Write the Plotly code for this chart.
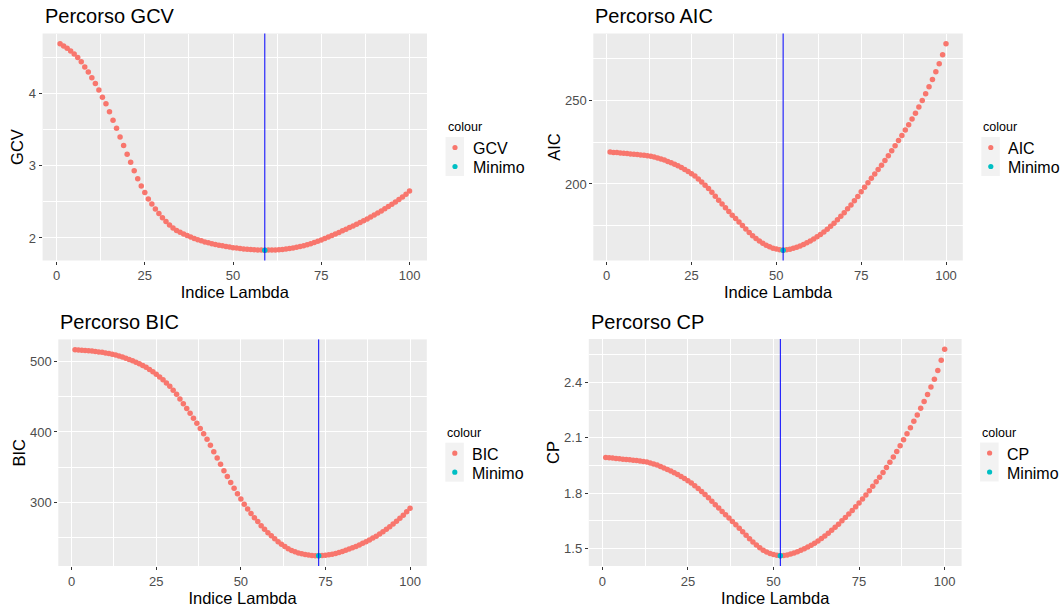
import plotly.graph_objects as go

# Lambda index shared by every criterion
indice = list(range(1, 101))

gcv = [4.69, 4.66, 4.63, 4.59, 4.55, 4.50, 4.44, 4.37, 4.30, 4.22,
       4.14, 4.05, 3.95, 3.86, 3.75, 3.63, 3.52, 3.40, 3.28, 3.16,
       3.05, 2.93, 2.82, 2.72, 2.63, 2.54, 2.47, 2.40, 2.34, 2.28,
       2.23, 2.18, 2.14, 2.105, 2.08, 2.055, 2.033, 2.012, 1.993, 1.976,
       1.96, 1.946, 1.933, 1.921, 1.91, 1.90, 1.891, 1.882, 1.874, 1.866,
       1.86, 1.854, 1.849, 1.845, 1.841, 1.838, 1.835, 1.833, 1.831, 1.832,
       1.833, 1.835, 1.838, 1.842, 1.847, 1.853, 1.861, 1.871, 1.882, 1.893,
       1.905, 1.92, 1.937, 1.955, 1.973, 1.992, 2.012, 2.033, 2.055, 2.077,
       2.099, 2.121, 2.144, 2.167, 2.19, 2.214, 2.239, 2.264, 2.29, 2.317,
       2.345, 2.374, 2.404, 2.435, 2.467, 2.50, 2.534, 2.569, 2.605, 2.652]

aic = [219.1, 218.9, 218.8, 218.6, 218.4, 218.2, 218.0, 217.8, 217.6, 217.4,
       217.2, 216.9, 216.6, 216.1, 215.6, 215.0, 214.3, 213.5, 212.7, 211.8,
       210.9, 209.8, 208.7, 207.4, 206.1, 204.7, 203.0, 201.2, 199.2, 197.2,
       195.0, 192.6, 190.3, 188.0, 185.8, 183.5, 181.3, 179.3, 177.2, 175.1,
       173.0, 170.9, 169.0, 167.3, 165.8, 164.5, 163.3, 162.3, 161.5, 161.0,
       160.6, 160.3, 160.5, 160.9, 161.4, 162.0, 162.8, 163.7, 164.7, 165.8,
       167.0, 168.3, 169.7, 171.2, 172.8, 174.6, 176.5, 178.5, 180.6, 182.8,
       185.1, 187.4, 189.9, 192.5, 195.3, 198.0, 200.7, 203.4, 206.0, 208.6,
       211.2, 214.0, 216.9, 219.9, 222.9, 226.0, 229.1, 232.3, 235.5, 238.9,
       242.4, 246.1, 250.0, 254.0, 258.2, 262.6, 267.2, 272.1, 277.4, 284.0]

bic = [517.0, 516.6, 516.3, 515.9, 515.5, 515.0, 514.5, 513.9, 513.2, 512.4,
       511.5, 510.5, 509.3, 508.0, 506.6, 505.0, 503.2, 501.2, 499.0, 496.9,
       494.6, 492.0, 489.0, 485.6, 482.0, 478.2, 474.2, 469.8, 465.0, 459.5,
       453.5, 447.0, 440.3, 433.5, 426.5, 419.5, 412.5, 405.0, 397.5, 389.6,
       381.0, 372.0, 363.0, 354.0, 345.0, 336.5, 328.2, 320.0, 312.0, 304.5,
       297.3, 290.5, 284.0, 278.0, 272.5, 266.5, 261.5, 256.8, 252.3, 248.0,
       244.0, 240.3, 237.0, 234.0, 231.5, 229.5, 227.9, 226.6, 225.6, 224.9,
       224.4, 224.1, 224.0, 224.2, 224.7, 225.4, 226.2, 227.3, 228.6, 230.0,
       231.7, 233.5, 235.2, 237.0, 239.3, 241.6, 243.9, 246.5, 249.1, 251.8,
       255.0, 258.2, 261.6, 265.2, 269.0, 273.0, 277.2, 281.7, 286.5, 291.5]

cp = [1.993, 1.991, 1.990, 1.988, 1.986, 1.984, 1.982, 1.980, 1.978, 1.976,
      1.974, 1.971, 1.968, 1.963, 1.958, 1.952, 1.944, 1.936, 1.928, 1.919,
      1.910, 1.900, 1.890, 1.879, 1.867, 1.854, 1.840, 1.825, 1.809, 1.792,
      1.774, 1.756, 1.737, 1.719, 1.700, 1.682, 1.664, 1.646, 1.628, 1.609,
      1.590, 1.571, 1.552, 1.534, 1.518, 1.503, 1.490, 1.480, 1.472, 1.466,
      1.462, 1.460, 1.461, 1.464, 1.469, 1.475, 1.482, 1.490, 1.498, 1.507,
      1.517, 1.528, 1.540, 1.553, 1.567, 1.582, 1.598, 1.614, 1.631, 1.649,
      1.667, 1.686, 1.705, 1.725, 1.746, 1.768, 1.790, 1.813, 1.837, 1.861,
      1.886, 1.912, 1.939, 1.967, 1.996, 2.026, 2.057, 2.089, 2.122, 2.155,
      2.189, 2.224, 2.260, 2.297, 2.335, 2.375, 2.417, 2.465, 2.520, 2.580]

criteri = ["GCV", "AIC", "BIC", "CP"]
x_ticks = [0, 25, 50, 75, 100]
x_minor = [12.5, 37.5, 62.5, 87.5]
gcv_ticks, gcv_minor = [2, 3, 4], [2.5, 3.5, 4.5]
aic_ticks, aic_minor = [200, 250], [175, 225, 275]
bic_ticks, bic_minor = [300, 400, 500], [250, 350, 450]
cp_ticks, cp_minor = [1.5, 1.8, 2.1, 2.4], [1.65, 1.95, 2.25, 2.55]
cp_labels = ["1.5", "1.8", "2.1", "2.4"]

W, H = 1063, 607
FONT = "Liberation Sans, Arial, sans-serif"
ROSSO, CIANO = "#F8766D", "#00BFC4"

# panel boxes in pixels: left, top, right, bottom
boxes = [(42.6, 33.5, 427.0, 260.5), (593.3, 33.5, 962.8, 260.5),
         (58.3, 339.4, 426.8, 566.0), (588.8, 339.0, 961.6, 566.0)]

series = [gcv, aic, bic, cp]
y_tick_sets = [(gcv_ticks, gcv_minor, None), (aic_ticks, aic_minor, None),
               (bic_ticks, bic_minor, None), (cp_ticks, cp_minor, cp_labels)]


def px(xp):
    return xp / W


def py(yp):
    return 1 - yp / H


fig = go.Figure()
layout = dict(
    width=W, height=H, margin=dict(l=0, r=0, t=0, b=0),
    paper_bgcolor="white", plot_bgcolor="#EBEBEB",
    font=dict(family=FONT, color="black"),
    showlegend=False,
)

annotations = []
shapes = []

for i, (nome, vals) in enumerate(zip(criteri, series)):
    n = i + 1
    sfx = "" if n == 1 else str(n)
    l, t, r, b = boxes[i]

    vmin = min(vals)
    imin = indice[vals.index(vmin)]
    vmax = max(vals)
    pad = 0.05 * (vmax - vmin)
    xpad = 0.05 * (indice[-1] - indice[0])

    fig.add_trace(go.Scatter(
        x=indice, y=vals, mode="markers", name=nome,
        marker=dict(color=ROSSO, size=5.5),
        xaxis="x" + sfx, yaxis="y" + sfx))
    fig.add_trace(go.Scatter(
        x=[imin], y=[vmin], mode="markers", name="Minimo",
        marker=dict(color=CIANO, size=5.5),
        xaxis="x" + sfx, yaxis="y" + sfx))

    yt, ym, ylab = y_tick_sets[i]
    axis_common = dict(
        showgrid=True, gridcolor="white", gridwidth=1.1,
        zeroline=False, showline=False,
        ticks="outside", ticklen=3, tickwidth=1, tickcolor="#333333",
        tickfont=dict(size=13, color="#4D4D4D", family=FONT),
    )
    layout["xaxis" + sfx] = dict(
        axis_common, domain=[px(l), px(r)], anchor="y" + sfx,
        range=[indice[0] - xpad, indice[-1] + xpad],
        tickmode="array", tickvals=x_ticks,
        minor=dict(tickmode="array", tickvals=x_minor, showgrid=True,
                   gridcolor="white", gridwidth=0.55, ticks=""),
        title=dict(text="Indice Lambda", font=dict(size=16.5, color="black"),
                   standoff=3),
    )
    ydict = dict(
        axis_common, domain=[py(b), py(t)], anchor="x" + sfx,
        range=[vmin - pad, vmax + pad],
        tickmode="array", tickvals=yt,
        minor=dict(tickmode="array", tickvals=ym, showgrid=True,
                   gridcolor="white", gridwidth=0.55, ticks=""),
        title=dict(text=nome, font=dict(size=16.5, color="black"),
                   standoff=0),
    )
    if ylab:
        ydict["ticktext"] = ylab
    layout["yaxis" + sfx] = ydict

    # vertical marker at the minimising lambda index
    shapes.append(dict(type="line", xref="x" + sfx, yref=f"y{sfx} domain",
                       x0=imin, x1=imin, y0=0, y1=1,
                       line=dict(color="#0000FF", width=1), layer="above"))

    # panel title
    annotations.append(dict(
        text="Percorso " + nome, xref="paper", yref="paper",
        x=px(l), y=py(t - 4), xanchor="left", yanchor="bottom",
        showarrow=False, font=dict(size=20, color="black", family=FONT)))

    # colour guide to the right of the panel
    cy = (t + b) / 2
    annotations.append(dict(
        text="colour", xref="paper", yref="paper",
        x=px(r + 18.5), y=py(cy - 19.5), xanchor="left", yanchor="middle",
        showarrow=False, font=dict(size=12.5, color="black", family=FONT)))
    shapes.append(dict(type="rect", xref="paper", yref="paper",
                       x0=px(r + 18.5), x1=px(r + 37), y0=py(cy + 29),
                       y1=py(cy - 10), fillcolor="#F2F2F2",
                       line=dict(width=0), layer="below"))
    for k, (lab, col) in enumerate([(nome, ROSSO), ("Minimo", CIANO)]):
        yk = cy + 0.5 + 19 * k
        dx = r + 28
        shapes.append(dict(type="circle", xref="paper", yref="paper",
                           x0=px(dx - 2.6), x1=px(dx + 2.6),
                           y0=py(yk + 2.6), y1=py(yk - 2.6),
                           fillcolor=col, line=dict(width=0)))
        annotations.append(dict(
            text=lab, xref="paper", yref="paper",
            x=px(r + 43.5), y=py(yk + 1), xanchor="left", yanchor="middle",
            showarrow=False, font=dict(size=16, color="black", family=FONT)))

layout["annotations"] = annotations
layout["shapes"] = shapes
fig.update_layout(**layout)

fig.write_html("out.html")
